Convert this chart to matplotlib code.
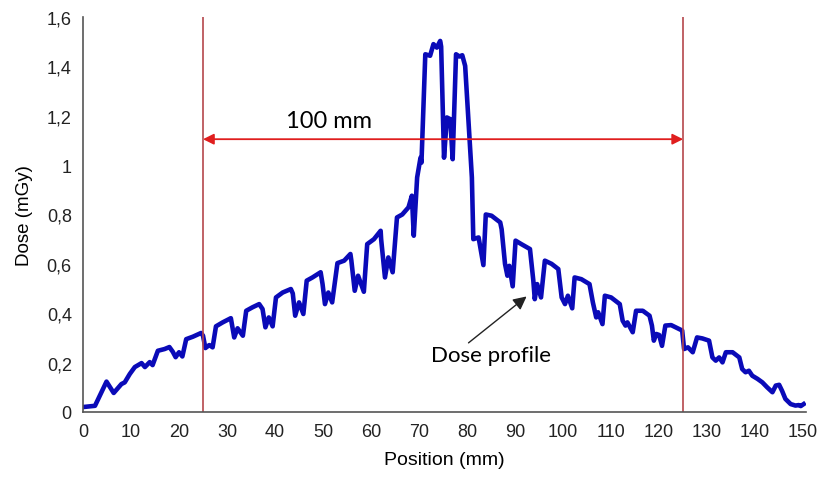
import numpy as np
import matplotlib.pyplot as plt
from matplotlib.ticker import FuncFormatter

# ---- данные ----
position = [0.0, 2.5, 4.9, 6.4, 8.0, 8.7, 9.75, 10.8, 12.2, 12.9, 13.9, 14.5,
            15.6, 17.0, 18.0, 18.7, 19.3, 20.0, 20.7, 21.5, 22.9, 24.6, 25.0,
            25.5, 26.3, 27.0, 27.7, 29.1, 30.8, 31.5, 32.2, 33.3, 34.0, 35.3,
            36.7, 37.4, 38.0, 38.7, 39.5, 40.2, 41.6, 43.3, 43.7, 44.2, 45.0,
            45.9, 46.6, 47.8, 49.5, 49.9, 50.4, 51.1, 51.9, 53.0, 54.4, 55.7,
            55.9, 56.6, 57.3, 58.5, 59.2, 60.6, 62.0, 62.1, 62.9, 63.6, 64.5,
            65.4, 66.5, 67.8, 68.5, 68.9, 69.6, 70.3, 70.5, 71.3, 72.3, 73.0,
            73.7, 74.4, 74.6, 75.2, 75.8, 76.5, 77.0, 77.7, 78.4, 79.0, 79.6,
            81.0, 81.3, 82.4, 83.4, 83.9, 85.1, 86.9, 87.2, 87.9, 88.4, 88.8,
            89.5, 90.1, 91.3, 93.1, 93.8, 94.1, 94.6, 95.4, 96.2, 97.6, 99.0,
            99.7, 100.4, 101.0, 101.9, 102.4, 103.8, 105.5, 106.2, 106.9, 107.3,
            108.2, 108.7, 110.0, 111.8, 112.4, 113.0, 113.4, 114.5, 115.2,
            116.6, 118.0, 118.5, 118.9, 119.4, 120.0, 120.6, 121.3, 122.5,
            124.2, 124.8, 125.2, 126.0, 127.0, 127.9, 129.0, 130.4, 131.1,
            131.8, 132.5, 133.2, 133.9, 135.3, 136.7, 137.3, 138.0, 138.7,
            139.4, 140.5, 141.5, 142.5, 143.6, 144.3, 145.0, 145.6, 146.3,
            147.4, 148.4, 149.1, 149.5, 150.1]
dose = [0.020, 0.025, 0.123, 0.077, 0.113, 0.120, 0.154, 0.182, 0.198, 0.182,
        0.202, 0.190, 0.248, 0.255, 0.263, 0.244, 0.222, 0.242, 0.225, 0.295,
        0.305, 0.320, 0.309, 0.259, 0.271, 0.262, 0.347, 0.363, 0.380, 0.302,
        0.339, 0.309, 0.410, 0.424, 0.437, 0.417, 0.343, 0.383, 0.347, 0.464,
        0.484, 0.498, 0.480, 0.390, 0.444, 0.397, 0.532, 0.545, 0.566, 0.518,
        0.437, 0.484, 0.444, 0.603, 0.613, 0.640, 0.613, 0.491, 0.552, 0.487,
        0.680, 0.700, 0.734, 0.700, 0.545, 0.626, 0.566, 0.788, 0.800, 0.829,
        0.876, 0.714, 0.950, 1.030, 1.010, 1.449, 1.443, 1.490, 1.476, 1.503,
        1.480, 1.030, 1.193, 1.186, 1.024, 1.449, 1.440, 1.445, 1.402, 0.950,
        0.700, 0.707, 0.595, 0.800, 0.795, 0.768, 0.740, 0.600, 0.552, 0.592,
        0.509, 0.694, 0.680, 0.660, 0.532, 0.457, 0.518, 0.464, 0.613, 0.600,
        0.579, 0.464, 0.437, 0.471, 0.420, 0.545, 0.538, 0.518, 0.444, 0.383,
        0.404, 0.356, 0.471, 0.464, 0.437, 0.370, 0.350, 0.363, 0.323, 0.410,
        0.410, 0.390, 0.350, 0.289, 0.316, 0.312, 0.268, 0.350, 0.352, 0.336,
        0.330, 0.255, 0.262, 0.242, 0.302, 0.298, 0.289, 0.221, 0.208, 0.221,
        0.201, 0.242, 0.242, 0.221, 0.174, 0.161, 0.167, 0.147, 0.134, 0.120,
        0.100, 0.080, 0.107, 0.110, 0.086, 0.053, 0.032, 0.026, 0.028, 0.024,
        0.032]

X_TICKS = list(range(0, 151, 10))
Y_TICKS = [0, 0.2, 0.4, 0.6, 0.8, 1.0, 1.2, 1.4, 1.6]
FIELD = (25, 125)          # границы поля 100 мм
ARROW_Y = 1.105

plt.rcParams['font.family'] = ['Liberation Sans Narrow', 'Liberation Sans', 'DejaVu Sans']

fig = plt.figure(figsize=(8.24, 4.81), dpi=100)
ax = fig.add_axes([0.1007, 0.1414, 0.8775, 0.8212])

ax.plot(position, dose, color='#0A0AB8', lw=3.3, solid_joinstyle='round')

for xv in FIELD:
    ax.plot([xv, xv], [0, 1.6], color='#B5474B', lw=1.2)

ax.annotate('', xy=(FIELD[1], ARROW_Y), xytext=(FIELD[0], ARROW_Y),
            arrowprops=dict(arrowstyle='<|-|>', color='#E01E1E', lw=1.3,
                            mutation_scale=16, shrinkA=0, shrinkB=0))
ax.text(51.2, 1.18, '100 mm', ha='center', va='center', fontsize=17,
        family=['Lato', 'DejaVu Sans'])

# подпись и стрелка к профилю
ax.text(85.0, 0.232, 'Dose profile', ha='center', va='center', fontsize=16,
        family=['Lato', 'DejaVu Sans'])
ax.annotate('', xy=(92.4, 0.468), xytext=(80.3, 0.28),
            arrowprops=dict(arrowstyle='-|>', color='#222222', lw=1.0,
                            mutation_scale=20, shrinkA=0, shrinkB=0))

ax.set_xlim(0, 150.6)
ax.set_ylim(0, 1.6)
ax.set_xticks(X_TICKS)
ax.set_yticks(Y_TICKS)
ax.yaxis.set_major_formatter(FuncFormatter(lambda v, p: f'{v:g}'.replace('.', ',')))
ax.tick_params(length=0, labelsize=13, pad=8, colors='#222222')
for s in ['top', 'right']:
    ax.spines[s].set_visible(False)
for s in ['left', 'bottom']:
    ax.spines[s].set_color('#555555')
    ax.spines[s].set_linewidth(1.2)

ax.set_xlabel('Position (mm)', fontsize=14, labelpad=8)
ax.set_ylabel('Dose (mGy)', fontsize=13.5, labelpad=10)

fig.savefig('out.png', dpi=100, facecolor='white')
